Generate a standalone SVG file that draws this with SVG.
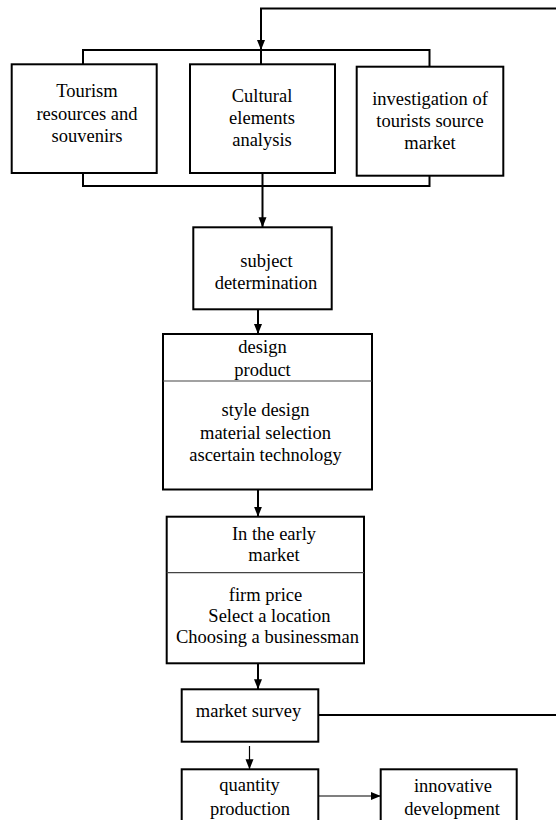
<svg xmlns="http://www.w3.org/2000/svg" width="556" height="820" viewBox="0 0 556 820">
<style>
.box{fill:#fff;stroke:#000;stroke-width:2}
.div{stroke:#444;stroke-width:1.2;fill:none}
.ln{fill:none;stroke:#000;stroke-width:2}
.thin{fill:none;stroke:#000;stroke-width:1.2}
text{font-family:"Liberation Serif","Times New Roman",serif;font-size:18.5px;fill:#000;text-anchor:middle}
</style>
<defs>
<marker id="ah" markerUnits="userSpaceOnUse" markerWidth="10" markerHeight="10" viewBox="0 0 10 10" refX="10" refY="5" orient="auto">
<path d="M0,1 L10,5 L0,9 Z" fill="#000"/>
</marker>
</defs>
<rect width="556" height="820" fill="#fff"/>
<g id="connectors">
<path class="ln" d="M318,715 H562 V8.5 H261 V50" marker-end="url(#ah)"/>
<path class="ln" d="M83,64.3 V50 H429.5 V66.7"/>
<path class="ln" d="M261,50 V64.3"/>
<path class="ln" d="M83,173 V186 H429.5 V175.7"/>
<path class="ln" d="M262.5,173 V227.3" marker-end="url(#ah)"/>
<path class="ln" d="M258,309.5 V334" marker-end="url(#ah)"/>
<path class="ln" d="M258,489.5 V516.7" marker-end="url(#ah)"/>
<path class="ln" d="M258,663.3 V689.3" marker-end="url(#ah)"/>
<path class="thin" d="M249.5,746 V769.3" marker-end="url(#ah)"/>
<path class="thin" d="M318.3,796 H380.7" marker-end="url(#ah)"/>
</g>
<g id="n-tourism">
<rect class="box" x="11.7" y="64.3" width="145" height="108.7"/>
<text x="87" y="97">Tourism</text>
<text x="87" y="119.5">resources and</text>
<text x="87" y="141.5">souvenirs</text>
</g>
<g id="n-cultural">
<rect class="box" x="190" y="64.3" width="145" height="108.7"/>
<text x="262" y="102">Cultural</text>
<text x="262" y="124">elements</text>
<text x="262" y="146">analysis</text>
</g>
<g id="n-investigation">
<rect class="box" x="356.7" y="66.7" width="146.6" height="109"/>
<text x="430" y="105">investigation of</text>
<text x="430" y="127">tourists source</text>
<text x="430" y="149">market</text>
</g>
<g id="n-subject">
<rect class="box" x="193.3" y="227.3" width="138.4" height="82"/>
<text x="266.5" y="266.5">subject</text>
<text x="266" y="288.5">determination</text>
</g>
<g id="n-design">
<rect class="box" x="163" y="334" width="209" height="155.5"/>
<line class="div" x1="163" y1="381" x2="372" y2="381"/>
<text x="262.5" y="353">design</text>
<text x="262.5" y="375.5">product</text>
<text x="265.5" y="416">style design</text>
<text x="265.5" y="438.5">material selection</text>
<text x="265.5" y="461">ascertain technology</text>
</g>
<g id="n-early">
<rect class="box" x="166.7" y="516.7" width="197.3" height="146.6"/>
<line class="div" x1="166.7" y1="572.7" x2="364" y2="572.7"/>
<text x="274" y="540">In the early</text>
<text x="274" y="560.5">market</text>
<text x="265.5" y="600.5">firm price</text>
<text x="269.5" y="621.5">Select a location</text>
<text x="267.5" y="643.3">Choosing a businessman</text>
</g>
<g id="n-survey">
<rect class="box" x="181.7" y="689.3" width="136.6" height="52.4"/>
<text x="248.5" y="717">market survey</text>
</g>
<g id="n-quantity">
<rect class="box" x="181.7" y="769.3" width="136.6" height="60"/>
<text x="249.5" y="791">quantity</text>
<text x="250" y="815">production</text>
</g>
<g id="n-innovative">
<rect class="box" x="380.7" y="769.3" width="136" height="60"/>
<text x="453" y="792">innovative</text>
<text x="452" y="815">development</text>
</g>
</svg>
